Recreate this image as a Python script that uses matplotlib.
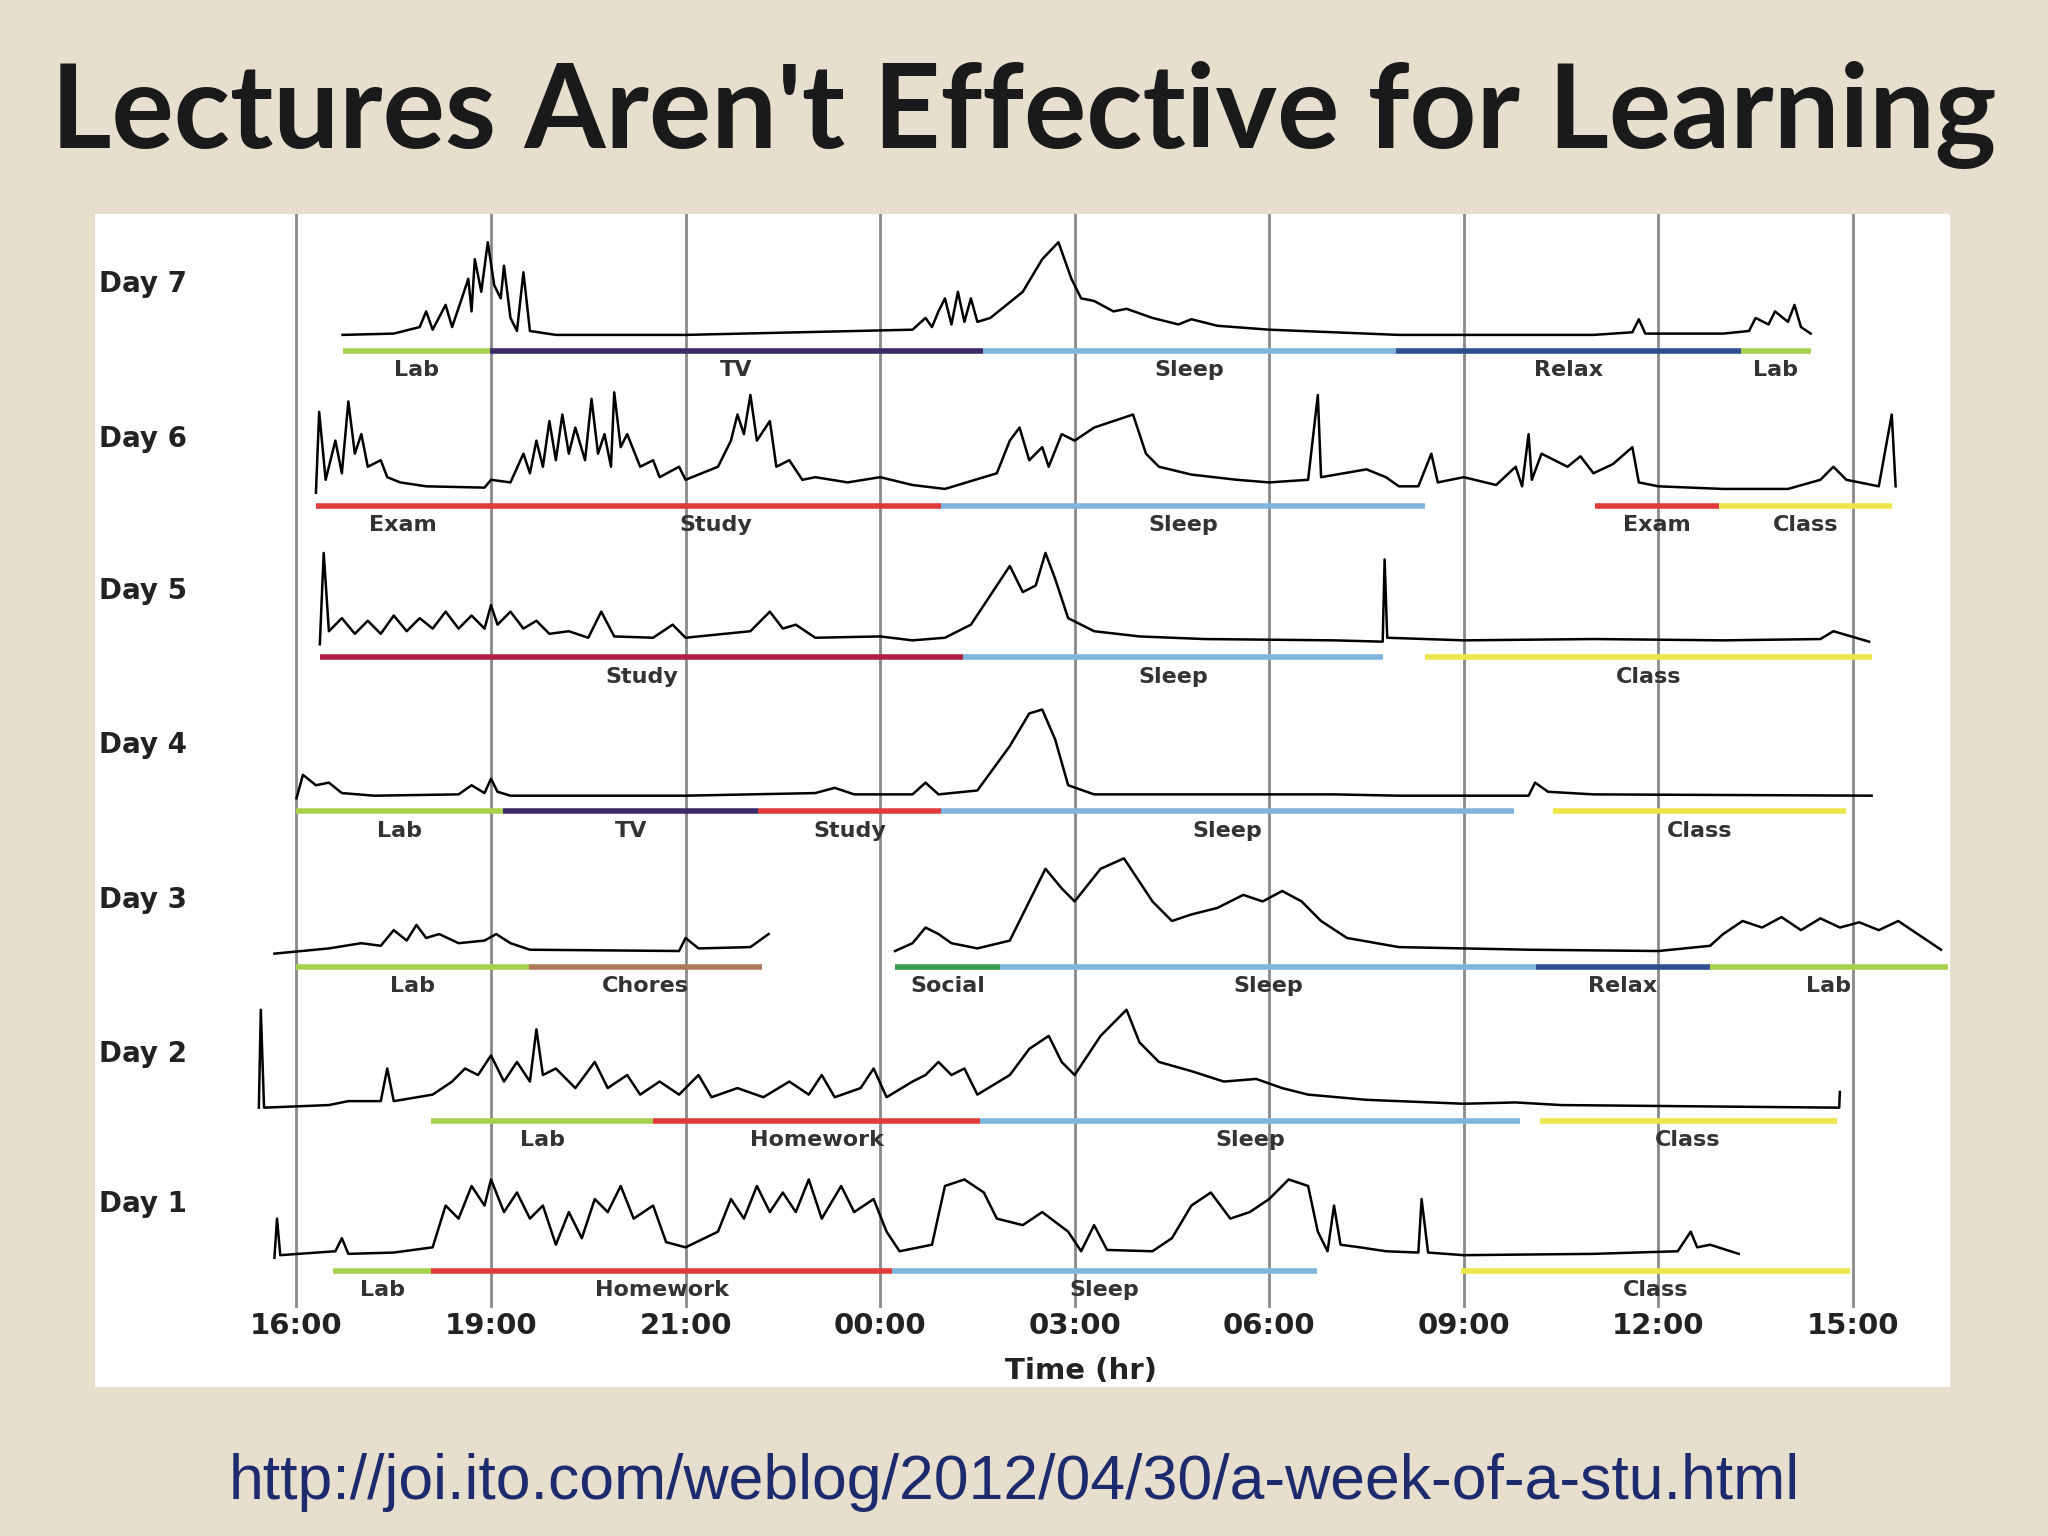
import numpy as np
import matplotlib.pyplot as plt

# hours since 16:00, heights in panel units
day7 = [(0.71, 2), (1.5, 3), (1.9, 8), (2.0, 20), (2.1, 6), (2.3, 25), (2.4, 8), (2.55, 30), (2.65, 45), (2.7, 20),
        (2.75, 60), (2.85, 35), (2.95, 73), (3.05, 40), (3.15, 30), (3.2, 55), (3.3, 15), (3.4, 5), (3.5, 50),
        (3.6, 5), (4.0, 2), (6, 2), (9.5, 6), (9.7, 15), (9.8, 8), (9.9, 20), (10.0, 30), (10.1, 10), (10.2, 35),
        (10.3, 12), (10.4, 30), (10.5, 12), (10.7, 15), (11.2, 35), (11.5, 60), (11.75, 73), (11.95, 45),
        (12.1, 30), (12.3, 28), (12.6, 20), (12.8, 22), (13.2, 15), (13.6, 10), (13.8, 14), (14.2, 9), (15, 6),
        (16, 4), (17, 2), (20, 2), (20.6, 4), (20.7, 14), (20.8, 3), (22, 3), (22.4, 5), (22.5, 15), (22.7, 10),
        (22.8, 20), (23.0, 12), (23.1, 25), (23.2, 8), (23.35, 3)]
day6 = [(0.3, 0), (0.35, 62), (0.45, 10), (0.6, 40), (0.7, 15), (0.8, 70), (0.9, 30), (1.0, 45), (1.1, 20),
        (1.3, 25), (1.4, 12), (1.6, 8), (2.0, 5), (2.9, 4), (3.0, 10), (3.3, 8), (3.5, 30), (3.6, 15), (3.7, 40),
        (3.8, 20), (3.9, 55), (4.0, 25), (4.1, 60), (4.2, 30), (4.3, 50), (4.45, 25), (4.55, 72), (4.65, 30),
        (4.75, 45), (4.85, 20), (4.9, 77), (5.0, 35), (5.1, 45), (5.3, 20), (5.5, 25), (5.6, 12), (5.9, 20),
        (6.0, 10), (6.5, 20), (6.7, 40), (6.8, 60), (6.9, 45), (7.0, 75), (7.1, 40), (7.3, 55), (7.4, 20),
        (7.6, 25), (7.8, 10), (8.0, 12), (8.5, 8), (9.0, 12), (9.5, 6), (10, 3), (10.8, 15), (11.0, 40),
        (11.15, 50), (11.3, 25), (11.5, 35), (11.6, 20), (11.8, 45), (12.0, 40), (12.3, 50), (12.6, 55),
        (12.9, 60), (13.1, 30), (13.3, 20), (13.8, 14), (14.5, 10), (15, 8), (15.6, 10), (15.75, 75), (15.8, 12),
        (16.5, 18), (16.8, 12), (17.0, 5), (17.3, 5), (17.5, 30), (17.6, 8), (18, 12), (18.5, 6), (18.8, 20),
        (18.9, 5), (19.0, 45), (19.05, 10), (19.2, 30), (19.4, 25), (19.6, 20), (19.8, 28), (20.0, 15),
        (20.3, 22), (20.6, 35), (20.7, 8), (21, 5), (22, 3), (23, 3), (23.5, 10), (23.7, 20), (23.9, 10),
        (24.4, 5), (24.6, 60), (24.66, 5)]
day5 = [(0.36, 0), (0.42, 70), (0.5, 10), (0.7, 20), (0.9, 8), (1.1, 18), (1.3, 8), (1.5, 22), (1.7, 10),
        (1.9, 20), (2.1, 12), (2.3, 25), (2.5, 12), (2.7, 22), (2.9, 12), (3.0, 30), (3.1, 15), (3.3, 25),
        (3.5, 12), (3.7, 18), (3.9, 8), (4.2, 10), (4.5, 5), (4.7, 25), (4.9, 6), (5.5, 5), (5.8, 15), (6.0, 5),
        (7.0, 10), (7.3, 25), (7.5, 12), (7.7, 15), (8, 5), (9, 6), (9.5, 3), (10, 5), (10.4, 15), (10.8, 45),
        (11.0, 60), (11.2, 40), (11.4, 45), (11.55, 70), (11.7, 50), (11.9, 20), (12.3, 10), (13, 6), (14, 4),
        (16, 3), (16.75, 2), (16.78, 65), (16.82, 5), (18, 3), (20, 4), (22, 3), (23.5, 4), (23.7, 10), (24.25, 2)]
day4 = [(0, 0), (0.1, 18), (0.3, 10), (0.5, 12), (0.7, 4), (1.2, 2), (2.5, 3), (2.7, 10), (2.9, 4), (3.0, 15),
        (3.1, 5), (3.3, 2), (6, 2), (8, 4), (8.3, 8), (8.6, 3), (9.5, 3), (9.7, 12), (9.9, 3), (10.5, 6),
        (11.0, 40), (11.3, 65), (11.5, 68), (11.7, 45), (11.9, 10), (12.3, 3), (16, 3), (17, 2), (19.0, 2),
        (19.1, 12), (19.3, 5), (20, 3), (24.29, 2)]
day3 = [(-0.34, 0), (0.5, 4), (1.0, 8), (1.3, 6), (1.5, 18), (1.7, 10), (1.85, 22), (2.0, 12), (2.2, 15),
        (2.5, 8), (2.9, 10), (3.08, 15), (3.3, 8), (3.6, 3), (5.9, 2), (6.0, 12), (6.2, 4), (7.0, 5), (7.28, 15),
        (np.nan, np.nan),
        (9.23, 2), (9.5, 8), (9.7, 20), (9.9, 15), (10.1, 8), (10.5, 4), (11.0, 10), (11.3, 40), (11.55, 65),
        (11.8, 50), (12.0, 40), (12.4, 65), (12.76, 73), (13.0, 55), (13.2, 40), (13.5, 25), (13.8, 30),
        (14.2, 35), (14.6, 45), (14.9, 40), (15.2, 48), (15.5, 40), (15.8, 25), (16.2, 12), (17, 5), (19, 3),
        (21, 2), (21.8, 6), (22.0, 15), (22.3, 25), (22.6, 20), (22.9, 28), (23.2, 18), (23.5, 27), (23.8, 20),
        (24.1, 24), (24.4, 18), (24.7, 25), (25.0, 15), (25.36, 3)]
day2 = [(-0.58, 0), (-0.55, 75), (-0.5, 0), (0.5, 2), (0.8, 5), (1.3, 5), (1.4, 30), (1.5, 5), (2.1, 10),
        (2.4, 20), (2.6, 30), (2.8, 25), (3.0, 40), (3.2, 20), (3.4, 35), (3.6, 20), (3.7, 60), (3.8, 25),
        (4.0, 30), (4.3, 15), (4.6, 35), (4.8, 15), (5.1, 25), (5.3, 10), (5.6, 20), (5.9, 10), (6.2, 25),
        (6.4, 8), (6.8, 15), (7.2, 8), (7.6, 20), (7.9, 10), (8.1, 25), (8.3, 8), (8.7, 15), (8.9, 30), (9.1, 8),
        (9.5, 20), (9.7, 25), (9.9, 35), (10.1, 25), (10.3, 30), (10.5, 10), (11.0, 25), (11.3, 45), (11.6, 55),
        (11.8, 35), (12.0, 25), (12.4, 55), (12.8, 75), (13.0, 50), (13.3, 35), (13.8, 28), (14.3, 20),
        (14.8, 22), (15.2, 15), (15.6, 10), (16.5, 6), (18, 3), (18.8, 4), (19.5, 2), (23.79, 0), (23.8, 12)]
day1 = [(-0.34, 0), (-0.3, 30), (-0.25, 2), (0.6, 5), (0.7, 15), (0.8, 3), (1.5, 4), (2.1, 8), (2.3, 40),
        (2.5, 30), (2.7, 55), (2.9, 40), (3.0, 60), (3.2, 35), (3.4, 50), (3.6, 30), (3.8, 40), (4.0, 10),
        (4.2, 35), (4.4, 15), (4.6, 45), (4.8, 35), (5.0, 55), (5.2, 30), (5.5, 40), (5.7, 12), (6.0, 8),
        (6.5, 20), (6.7, 45), (6.9, 30), (7.1, 55), (7.3, 35), (7.5, 50), (7.7, 35), (7.9, 60), (8.1, 30),
        (8.4, 55), (8.6, 35), (8.9, 45), (9.1, 20), (9.3, 5), (9.8, 10), (10.0, 55), (10.3, 60), (10.6, 50),
        (10.8, 30), (11.2, 25), (11.5, 35), (11.9, 20), (12.1, 5), (12.3, 25), (12.5, 6), (13.2, 5), (13.5, 15),
        (13.8, 40), (14.1, 50), (14.4, 30), (14.7, 35), (15.0, 45), (15.3, 60), (15.6, 55), (15.75, 20),
        (15.9, 5), (16.0, 40), (16.1, 10), (16.4, 8), (16.8, 5), (17.3, 4), (17.35, 45), (17.45, 4), (18, 2),
        (20, 3), (21.3, 5), (21.5, 20), (21.6, 8), (21.8, 10), (22.24, 3)]

GREEN, RED, BLUE, YEL = "#a8d04a", "#e03a3a", "#7fb4df", "#ece64a"
PURP, NAVY, BROWN, DGREEN, DRED = "#3b2b6b", "#2c4f8f", "#b07a5a", "#3a9a4a", "#b02040"

acts7 = [(0.71, 2.98, GREEN, "Lab"), (2.98, 10.58, PURP, "TV"), (10.58, 16.96, BLUE, "Sleep"),
         (16.96, 22.28, NAVY, "Relax"), (22.28, 23.35, GREEN, "Lab")]
acts6 = [(0.3, 2.98, RED, "Exam"), (2.98, 9.94, RED, "Study"), (9.94, 17.4, BLUE, "Sleep"),
         (20.02, 21.94, RED, "Exam"), (21.94, 24.6, YEL, "Class")]
acts5 = [(0.36, 10.28, DRED, "Study"), (10.28, 16.75, BLUE, "Sleep"), (17.4, 24.29, YEL, "Class")]
acts4 = [(0, 3.19, GREEN, "Lab"), (3.19, 7.12, PURP, "TV"), (7.12, 9.94, RED, "Study"),
         (9.94, 18.77, BLUE, "Sleep"), (19.38, 23.89, YEL, "Class")]
acts3 = [(0, 3.59, GREEN, "Lab"), (3.59, 7.18, BROWN, "Chores"), (9.23, 10.85, DGREEN, "Social"),
         (10.85, 19.11, BLUE, "Sleep"), (19.11, 21.79, NAVY, "Relax"), (21.79, 25.46, GREEN, "Lab")]
acts2 = [(2.08, 5.5, GREEN, "Lab"), (5.5, 10.54, RED, "Homework"), (10.54, 18.87, BLUE, "Sleep"),
         (19.17, 23.75, YEL, "Class")]
acts1 = [(0.56, 2.08, GREEN, "Lab"), (2.08, 9.19, RED, "Homework"), (9.19, 15.73, BLUE, "Sleep"),
         (17.96, 23.95, YEL, "Class")]

day_names = ["Day 7", "Day 6", "Day 5", "Day 4", "Day 3", "Day 2", "Day 1"]
baselines = [918, 799, 683, 565, 446, 328, 213]
traces = [day7, day6, day5, day4, day3, day2, day1]
activities = [acts7, acts6, acts5, acts4, acts3, acts2, acts1]
tick_hours = [0, 3, 6, 9, 12, 15, 18, 21, 24]
tick_labels = ["16:00", "19:00", "21:00", "00:00", "03:00", "06:00", "09:00", "12:00", "15:00"]

fig = plt.figure(figsize=(20.48, 15.36), dpi=100)
fig.patch.set_facecolor("#e8decd")

fig.text(0.5, 0.925, "Lectures Aren't Effective for Learning", ha="center", va="center",
         fontsize=84, fontweight="bold", family="Lato", color="#1a1a1a")
fig.text(0.495, 0.035, "http://joi.ito.com/weblog/2012/04/30/a-week-of-a-stu.html", ha="center",
         va="center", fontsize=45, color="#1c2a6e", family="Liberation Sans")

ax = fig.add_axes([0.0466, 0.097, 0.9056, 0.764])
ax.set_facecolor("white")
ax.set_xlim(-3.1, 25.5)
ax.set_ylim(114, 1013)
ax.axis("off")
ax.add_patch(plt.Rectangle((-3.1, 114), 28.6, 899, color="white", zorder=0))

for h in tick_hours:
    ax.axvline(h, ymin=0.069, ymax=1, color="#8a8a8a", lw=2, zorder=1)

for name, base, tr, acts in zip(day_names, baselines, traces, activities):
    xs = np.array([p[0] for p in tr])
    ys = np.array([p[1] for p in tr]) + base
    ax.plot(xs, ys, color="black", lw=1.8, zorder=3)
    for s, e, c, lab in acts:
        ax.plot([s, e], [base - 10, base - 10], color=c, lw=4, solid_capstyle="butt", zorder=2)
        ax.text((s + e) / 2, base - 25, lab, ha="center", va="center", fontsize=16,
                fontweight="bold", color="#333333")
    ax.text(-3.05, base + 41, name, ha="left", va="center", fontsize=20, fontweight="bold", color="#222222")

for h, lab in zip(tick_hours, tick_labels):
    ax.text(h, 161, lab, ha="center", va="center", fontsize=21, fontweight="bold", color="#222222")
ax.text(12.1, 126, "Time (hr)", ha="center", va="center", fontsize=21, fontweight="bold", color="#222222")

fig.savefig("out.png", dpi=100, facecolor=fig.get_facecolor())
